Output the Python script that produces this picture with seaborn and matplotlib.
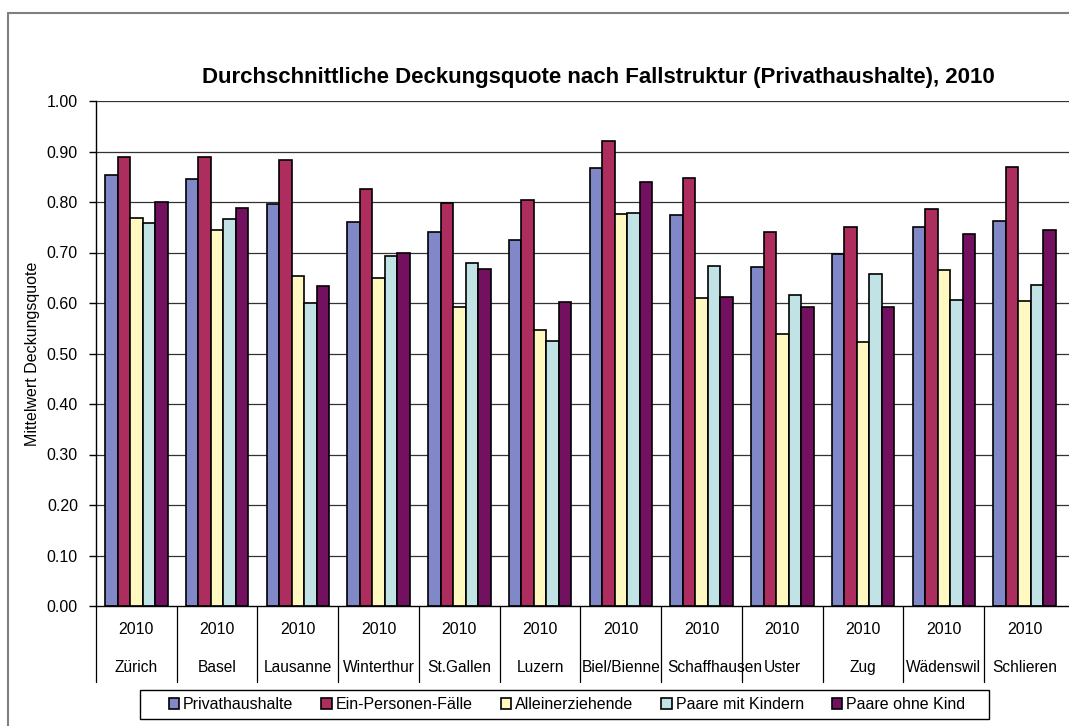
import pandas as pd
import seaborn as sns
import matplotlib.pyplot as plt
from matplotlib.lines import Line2D
from matplotlib.patches import Rectangle

# Data
cities = ["Zürich", "Basel", "Lausanne", "Winterthur", "St.Gallen", "Luzern",
          "Biel/Bienne", "Schaffhausen", "Uster", "Zug", "Wädenswil", "Schlieren"]
year_label = "2010"
groups = ["Privathaushalte", "Ein-Personen-Fälle", "Alleinerziehende",
          "Paare mit Kindern", "Paare ohne Kind"]

privathaushalte = [0.853, 0.846, 0.796, 0.761, 0.740, 0.724, 0.868, 0.775, 0.672, 0.698, 0.750, 0.762]
ein_personen = [0.889, 0.889, 0.884, 0.826, 0.798, 0.804, 0.921, 0.847, 0.740, 0.750, 0.787, 0.870]
alleinerziehende = [0.769, 0.744, 0.653, 0.649, 0.593, 0.546, 0.777, 0.610, 0.538, 0.522, 0.666, 0.604]
paare_mit_kindern = [0.758, 0.766, 0.600, 0.693, 0.679, 0.525, 0.779, 0.673, 0.615, 0.657, 0.606, 0.635]
paare_ohne_kind = [0.800, 0.788, 0.634, 0.699, 0.668, 0.602, 0.840, 0.611, 0.592, 0.593, 0.737, 0.744]

colors = ["#8088C8", "#AD2E5E", "#FFF8C0", "#C2E3E5", "#731060"]

series = [privathaushalte, ein_personen, alleinerziehende, paare_mit_kindern, paare_ohne_kind]
rows = []
for g, vals in zip(groups, series):
    for c, v in zip(cities, vals):
        rows.append({"Stadt": c, "Gruppe": g, "Quote": v})
df = pd.DataFrame(rows)

sns.set_style("white")
plt.rcParams["font.family"] = ["Liberation Sans", "DejaVu Sans"]
plt.rcParams["text.color"] = "black"
plt.rcParams["axes.labelcolor"] = "black"
plt.rcParams["ytick.color"] = "black"

W, H = 1069, 726
fs = 11.5
fig = plt.figure(figsize=(W / 100, H / 100), dpi=100)
ax = fig.add_axes([96 / W, 1 - 606 / H, 1 - 96 / W, 505 / H])

sns.barplot(data=df, x="Stadt", y="Quote", hue="Gruppe", hue_order=groups,
            palette=colors, width=0.775, edgecolor="black", linewidth=1.2,
            saturation=1, ax=ax)

ax.set_ylim(0, 1.0)
ax.set_xlim(-0.5, 11.55)
ax.set_yticks([i / 10 for i in range(11)])
ax.set_yticklabels([f"{i / 10:.2f}" for i in range(11)], fontsize=fs)
ax.tick_params(axis="y", direction="out", length=5, width=1, color="black", pad=8, left=True)
ax.set_xticks([])
ax.set_xlabel("")
ax.set_ylabel("Mittelwert Deckungsquote", fontsize=fs)
ax.yaxis.set_label_coords(-56 / 970, 0.5)

for y in [i / 10 for i in range(1, 11)]:
    ax.axhline(y, color="#333333", lw=0.9, zorder=0)

for side in ["top", "right"]:
    ax.spines[side].set_visible(False)
for side in ["left", "bottom"]:
    ax.spines[side].set_color("black")
    ax.spines[side].set_linewidth(1)

# two-level category labels (Schaffhausen pushed right as in the original)
nudge = {"Schaffhausen": 0.16}
tr = ax.get_xaxis_transform()
for i, c in enumerate(cities):
    ax.text(i, -28 / 505, year_label, transform=tr, ha="center", va="baseline", fontsize=fs)
    ax.text(i + nudge.get(c, 0), -66 / 505, c, transform=tr, ha="center", va="baseline",
            fontsize=11.2)
for i in range(len(cities)):
    ax.add_line(Line2D([i - 0.5, i - 0.5], [0, -76 / 505], transform=tr,
                       color="black", lw=0.9, clip_on=False))

fig.text(598 / W, 1 - 78 / H,
         "Durchschnittliche Deckungsquote nach Fallstruktur (Privathaushalte), 2010",
         fontsize=16, fontweight="bold", ha="center", va="center")

handles, labels = ax.get_legend_handles_labels()
ax.legend_.remove()
fig.legend(handles, labels, loc="center", ncol=5,
           bbox_to_anchor=(567 / W, 1 - 704.5 / H), fontsize=fs,
           frameon=False, handlelength=0.65, handleheight=0.65,
           handletextpad=0.25, columnspacing=1.75, borderpad=0.3)
fig.add_artist(Rectangle((140 / W, 1 - 719 / H), 849 / W, 29 / H,
                         transform=fig.transFigure, fill=False,
                         edgecolor="black", lw=1))

# outer chart border (top and left visible)
fig.add_artist(Line2D([8 / W, 1], [1 - 13 / H, 1 - 13 / H], transform=fig.transFigure,
                      color="#808080", lw=1.5))
fig.add_artist(Line2D([8 / W, 8 / W], [0, 1 - 13 / H], transform=fig.transFigure,
                      color="#808080", lw=1.5))

fig.savefig("out.png", dpi=100)
